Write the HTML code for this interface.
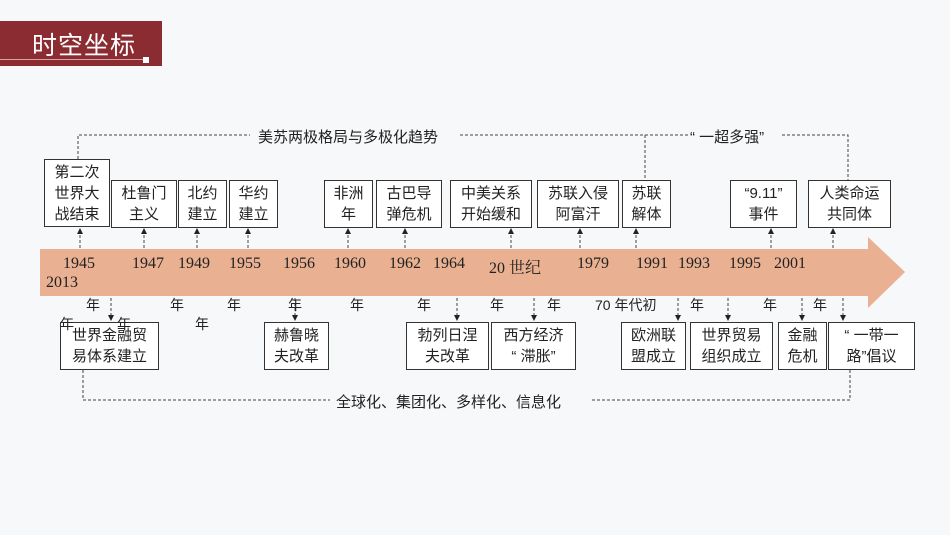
<!DOCTYPE html>
<html><head><meta charset="utf-8"><style>
body{margin:0;width:950px;height:535px;background:#f7f8fa;position:relative;overflow:hidden;font-family:"Liberation Sans","Noto Sans CJK SC",sans-serif;}
.b{position:absolute;border:1.3px solid #333;background:#fff;box-sizing:border-box;font-size:15px;line-height:21px;text-align:center;color:#222;display:flex;align-items:center;justify-content:center;}
.y{position:absolute;font-family:"Liberation Serif","Noto Serif CJK SC",serif;font-size:16px;color:#222;}
.n{position:absolute;font-size:14px;color:#222;}
</style></head><body>
<div style="position:absolute;left:0;top:21px;width:162px;height:45px;background:#8b2b32"></div>
<div style="position:absolute;left:0;top:59px;width:145px;height:1px;background:#d9a0a4"></div>
<div style="position:absolute;left:143px;top:57px;width:6px;height:6px;background:#fff"></div>
<div style="position:absolute;left:32px;top:26px;font-size:25px;color:#fff;letter-spacing:1px">时空坐标</div>
<svg width="950" height="535" style="position:absolute;left:0;top:0">
<polygon points="40,249 868,249 868,237 905,272 868,308 868,296 40,296" fill="#e9b091"/>
<g stroke="#444" stroke-width="1" stroke-dasharray="3,2" fill="none">
<path d="M78,159 V135 H250 M460,135 H688 M782,135 H848 V180 M645,135 V180"/>
<path d="M83,370 V400 H330 M592,400 H850 V370"/>
<path d="M80,248 V232 M144,248 V232 M197,248 V232 M248,248 V232 M348,248 V232 M405,248 V232 M511,248 V232 M580,248 V232 M636,248 V232 M771,248 V232 M833,248 V232"/>
<path d="M111,298 V316 M295,298 V316 M457,298 V316 M534,298 V316 M678,298 V316 M728,298 V316 M802,298 V316 M843,298 V316"/>
</g>
<g fill="#222">
<path d="M77,234 L80,228 L83,234Z M141,234 L144,228 L147,234Z M194,234 L197,228 L200,234Z M245,234 L248,228 L251,234Z M345,234 L348,228 L351,234Z M402,234 L405,228 L408,234Z M508,234 L511,228 L514,234Z M577,234 L580,228 L583,234Z M633,234 L636,228 L639,234Z M768,234 L771,228 L774,234Z M830,234 L833,228 L836,234Z"/>
<path d="M108,315 L111,321 L114,315Z M292,315 L295,321 L298,315Z M454,315 L457,321 L460,315Z M531,315 L534,321 L537,315Z M675,315 L678,321 L681,315Z M725,315 L728,321 L731,315Z M799,315 L802,321 L805,315Z M840,315 L843,321 L846,315Z"/>
</g>
</svg>
<div class="n" style="left:258px;top:126px;font-size:15px">美苏两极格局与多极化趋势</div>
<div class="n" style="left:690px;top:126px;font-size:15px">“ 一超多强”</div>
<div class="n" style="left:336px;top:391px;font-size:15px">全球化、集团化、多样化、信息化</div>

<div class="b" style="left:44px;top:159px;width:66px;height:68px">第二次<br>世界大<br>战结束</div>
<div class="b" style="left:111px;top:180px;width:66px;height:48px">杜鲁门<br>主义</div>
<div class="b" style="left:178px;top:180px;width:49px;height:48px">北约<br>建立</div>
<div class="b" style="left:229px;top:180px;width:49px;height:48px">华约<br>建立</div>
<div class="b" style="left:324px;top:180px;width:49px;height:48px">非洲<br>年</div>
<div class="b" style="left:376px;top:180px;width:66px;height:48px">古巴导<br>弹危机</div>
<div class="b" style="left:450px;top:180px;width:82px;height:48px">中美关系<br>开始缓和</div>
<div class="b" style="left:537px;top:180px;width:82px;height:48px">苏联入侵<br>阿富汗</div>
<div class="b" style="left:622px;top:180px;width:49px;height:48px">苏联<br>解体</div>
<div class="b" style="left:730px;top:180px;width:67px;height:48px">“9.11”<br>事件</div>
<div class="b" style="left:808px;top:180px;width:83px;height:48px">人类命运<br>共同体</div>

<div class="b" style="left:60px;top:322px;width:99px;height:48px">世界金融贸<br>易体系建立</div>
<div class="b" style="left:264px;top:322px;width:65px;height:48px">赫鲁晓<br>夫改革</div>
<div class="b" style="left:406px;top:322px;width:83px;height:48px">勃列日涅<br>夫改革</div>
<div class="b" style="left:491px;top:322px;width:85px;height:48px">西方经济<br>“ 滞胀”</div>
<div class="b" style="left:621px;top:322px;width:65px;height:48px">欧洲联<br>盟成立</div>
<div class="b" style="left:690px;top:322px;width:83px;height:48px">世界贸易<br>组织成立</div>
<div class="b" style="left:778px;top:322px;width:49px;height:48px">金融<br>危机</div>
<div class="b" style="left:828px;top:322px;width:87px;height:48px">“ 一带一<br>路”倡议</div>

<div class="y" style="left:63px;top:255px">1945</div>
<div class="y" style="left:46px;top:274px">2013</div>
<div class="y" style="left:132px;top:255px">1947</div>
<div class="y" style="left:178px;top:255px">1949</div>
<div class="y" style="left:229px;top:255px">1955</div>
<div class="y" style="left:283px;top:255px">1956</div>
<div class="y" style="left:334px;top:255px">1960</div>
<div class="y" style="left:389px;top:255px">1962</div>
<div class="y" style="left:433px;top:255px">1964</div>
<div class="y" style="left:489px;top:255px">20 世纪</div>
<div class="y" style="left:577px;top:255px">1979</div>
<div class="y" style="left:636px;top:255px">1991</div>
<div class="y" style="left:678px;top:255px">1993</div>
<div class="y" style="left:729px;top:255px">1995</div>
<div class="y" style="left:774px;top:255px">2001</div>

<div class="n" style="left:86px;top:295px">年</div>
<div class="n" style="left:170px;top:295px">年</div>
<div class="n" style="left:227px;top:295px">年</div>
<div class="n" style="left:288px;top:295px">年</div>
<div class="n" style="left:350px;top:295px">年</div>
<div class="n" style="left:417px;top:295px">年</div>
<div class="n" style="left:490px;top:295px">年</div>
<div class="n" style="left:547px;top:295px">年</div>
<div class="n" style="left:595px;top:295px">70 年代初</div>
<div class="n" style="left:690px;top:295px">年</div>
<div class="n" style="left:763px;top:295px">年</div>
<div class="n" style="left:813px;top:295px">年</div>
<div class="n" style="left:60px;top:314px">年</div>
<div class="n" style="left:117px;top:314px">年</div>
<div class="n" style="left:195px;top:314px">年</div>
</body></html>
